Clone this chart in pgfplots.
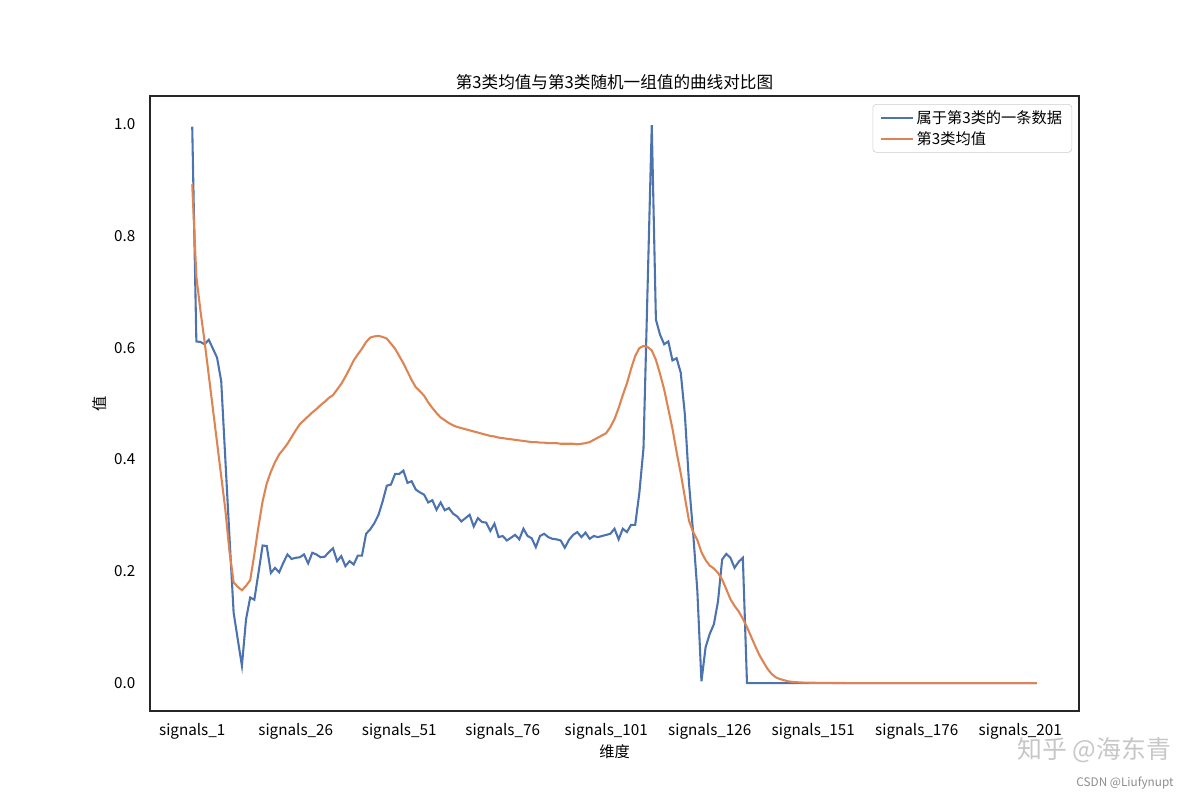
\documentclass[border=0pt]{standalone}
\usepackage{fontspec}
\setmainfont{Noto Sans CJK SC}
\usepackage{pgfplots}
\usepackage{pgfplotstable}
\pgfplotsset{compat=1.18}
\definecolor{sbblue}{HTML}{4C72B0}
\definecolor{sborange}{HTML}{DD8452}
\definecolor{axgray}{HTML}{262626}
\definecolor{leggray}{HTML}{CCCCCC}
\pgfplotstableread{
i b o
0 0.995 0.892
1 0.611 0.727
2 0.610 0.665
3 0.606 0.610
4 0.614 0.550
5 0.598 0.490
6 0.582 0.430
7 0.540 0.370
8 0.400 0.310
9 0.261 0.235
10 0.126 0.180
11 0.078 0.172
12 0.031 0.166
13 0.114 0.174
14 0.153 0.184
15 0.149 0.230
16 0.197 0.280
17 0.246 0.325
18 0.245 0.357
19 0.197 0.378
20 0.206 0.395
21 0.198 0.409
22 0.215 0.418
23 0.230 0.428
24 0.222 0.440
25 0.224 0.452
26 0.225 0.463
27 0.230 0.470
28 0.214 0.477
29 0.233 0.484
30 0.230 0.490
31 0.225 0.497
32 0.226 0.503
33 0.234 0.510
34 0.241 0.515
35 0.218 0.525
36 0.227 0.535
37 0.209 0.548
38 0.218 0.562
39 0.212 0.577
40 0.228 0.588
41 0.228 0.598
42 0.267 0.610
43 0.275 0.618
44 0.286 0.620
45 0.301 0.621
46 0.325 0.619
47 0.353 0.616
48 0.355 0.607
49 0.374 0.598
50 0.374 0.585
51 0.380 0.572
52 0.358 0.557
53 0.361 0.542
54 0.346 0.529
55 0.341 0.522
56 0.337 0.514
57 0.323 0.502
58 0.327 0.492
59 0.310 0.483
60 0.323 0.475
61 0.309 0.470
62 0.313 0.465
63 0.303 0.461
64 0.298 0.458
65 0.289 0.456
66 0.295 0.454
67 0.301 0.452
68 0.280 0.450
69 0.295 0.448
70 0.288 0.446
71 0.287 0.444
72 0.272 0.442
73 0.285 0.441
74 0.261 0.439
75 0.263 0.438
76 0.255 0.437
77 0.260 0.436
78 0.265 0.435
79 0.257 0.434
80 0.276 0.433
81 0.263 0.432
82 0.259 0.431
83 0.243 0.431
84 0.263 0.430
85 0.267 0.430
86 0.261 0.429
87 0.258 0.429
88 0.257 0.429
89 0.255 0.428
90 0.242 0.428
91 0.256 0.428
92 0.265 0.428
93 0.270 0.427
94 0.261 0.428
95 0.269 0.429
96 0.258 0.431
97 0.263 0.435
98 0.261 0.439
99 0.263 0.443
100 0.265 0.447
101 0.267 0.458
102 0.276 0.472
103 0.257 0.492
104 0.276 0.515
105 0.270 0.536
106 0.283 0.562
107 0.283 0.585
108 0.340 0.599
109 0.420 0.603
110 0.710 0.601
111 0.998 0.595
112 0.650 0.578
113 0.623 0.553
114 0.606 0.525
115 0.611 0.490
116 0.577 0.455
117 0.581 0.413
118 0.555 0.375
119 0.480 0.332
120 0.357 0.290
121 0.268 0.270
122 0.166 0.256
123 0.003 0.234
124 0.064 0.220
125 0.088 0.210
126 0.105 0.205
127 0.146 0.197
128 0.221 0.185
129 0.231 0.168
130 0.224 0.150
131 0.206 0.138
132 0.217 0.128
133 0.224 0.115
134 0.000 0.100
135 0.000 0.083
136 0.000 0.066
137 0.000 0.050
138 0.000 0.037
139 0.000 0.025
140 0.000 0.016
141 0.000 0.010
142 0.000 0.007
143 0.000 0.005
144 0.000 0.003
145 0.000 0.002
146 0.000 0.0015
147 0.000 0.001
148 0.000 0.0008
149 0.000 0.0006
150 0.000 0.0005
151 0.000 0.0004
152 0.000 0.0003
153 0.000 0.0002
154 0.000 0.0002
155 0.000 0.0001
156 0.000 0.0001
157 0.000 0.0001
158 0.000 0.0000
159 0.000 0.0000
160 0.000 0.0000
161 0.000 0.0000
162 0.000 0.0000
163 0.000 0.0000
164 0.000 0.0000
165 0.000 0.0000
166 0.000 0.0000
167 0.000 0.0000
168 0.000 0.0000
169 0.000 0.0000
170 0.000 0.0000
171 0.000 0.0000
172 0.000 0.0000
173 0.000 0.0000
174 0.000 0.0000
175 0.000 0.0000
176 0.000 0.0000
177 0.000 0.0000
178 0.000 0.0000
179 0.000 0.0000
180 0.000 0.0000
181 0.000 0.0000
182 0.000 0.0000
183 0.000 0.0000
184 0.000 0.0000
185 0.000 0.0000
186 0.000 0.0000
187 0.000 0.0000
188 0.000 0.0000
189 0.000 0.0000
190 0.000 0.0000
191 0.000 0.0000
192 0.000 0.0000
193 0.000 0.0000
194 0.000 0.0000
195 0.000 0.0000
196 0.000 0.0000
197 0.000 0.0000
198 0.000 0.0000
199 0.000 0.0000
200 0.000 0.0000
201 0.000 0.0000
202 0.000 0.0000
203 0.000 0.0000
204 0.000 0.0000
}\sigdata

\begin{document}
\begin{tikzpicture}
\path[use as bounding box] (0,0) rectangle (864bp,576bp);
\begin{axis}[
  at={(108bp,64.08bp)}, anchor=south west,
  width=668.88bp, height=442.8bp, scale only axis,
  xmin=-10.2, xmax=214.2, ymin=-0.05, ymax=1.05,
  axis line style={draw=axgray, line width=1.25bp},
  major tick length=0pt,
  xtick={0,25,50,75,100,125,150,175,200},
  xticklabels={signals\_1,signals\_26,signals\_51,signals\_76,signals\_101,signals\_126,signals\_151,signals\_176,signals\_201},
  ytick={0,0.2,0.4,0.6,0.8,1.0},
  /pgf/number format/assume math mode=true,
  tick label style={font=\fontsize{11}{13}\selectfont, text=black},
  xticklabel style={anchor=center, yshift=-15bp},
  yticklabel style={anchor=east, xshift=-7.1bp,
    /pgf/number format/fixed, /pgf/number format/fixed zerofill, /pgf/number format/precision=1},
  title={第3类均值与第3类随机一组值的曲线对比图},
  title style={font=\fontsize{12}{14}\selectfont, at={(axis description cs:0.5,1.009)}, anchor=center},
  xlabel={维度},
  xlabel style={font=\fontsize{11}{13}\selectfont, at={(axis description cs:0.5,-0.066)}, anchor=center},
  ylabel={值},
  ylabel style={font=\fontsize{11}{13}\selectfont, at={(axis description cs:-0.0538,0.5)}, anchor=center},
  legend style={at={(axis description cs:1,1)}, anchor=north east, xshift=-5bp, yshift=-5.8bp,
    draw=leggray, rounded corners=2.5bp, fill=white, font=\fontsize{11}{13}\selectfont,
    inner xsep=5bp, inner ysep=2.3bp, row sep=0.5bp, cells={anchor=west}},
  legend image code/.code={\draw[#1] (0bp,0bp) -- (23bp,0bp);},
  legend cell align=left,
]
\addplot[sbblue, line width=1.5bp] table[x=i, y=b] {\sigdata};
\addlegendentry{属于第3类的一条数据}
\addplot[sborange, line width=1.5bp] table[x=i, y=o] {\sigdata};
\addlegendentry{第3类均值}
\end{axis}
\node[text=black!22, font=\fontsize{18}{20}\selectfont, anchor=center] at (788bp,36bp) {知乎 @海东青};
\node[text=black!45, font=\fontsize{8.5}{10}\selectfont, anchor=center] at (810bp,12.2bp) {CSDN @Liufynupt};
\end{tikzpicture}
\end{document}
